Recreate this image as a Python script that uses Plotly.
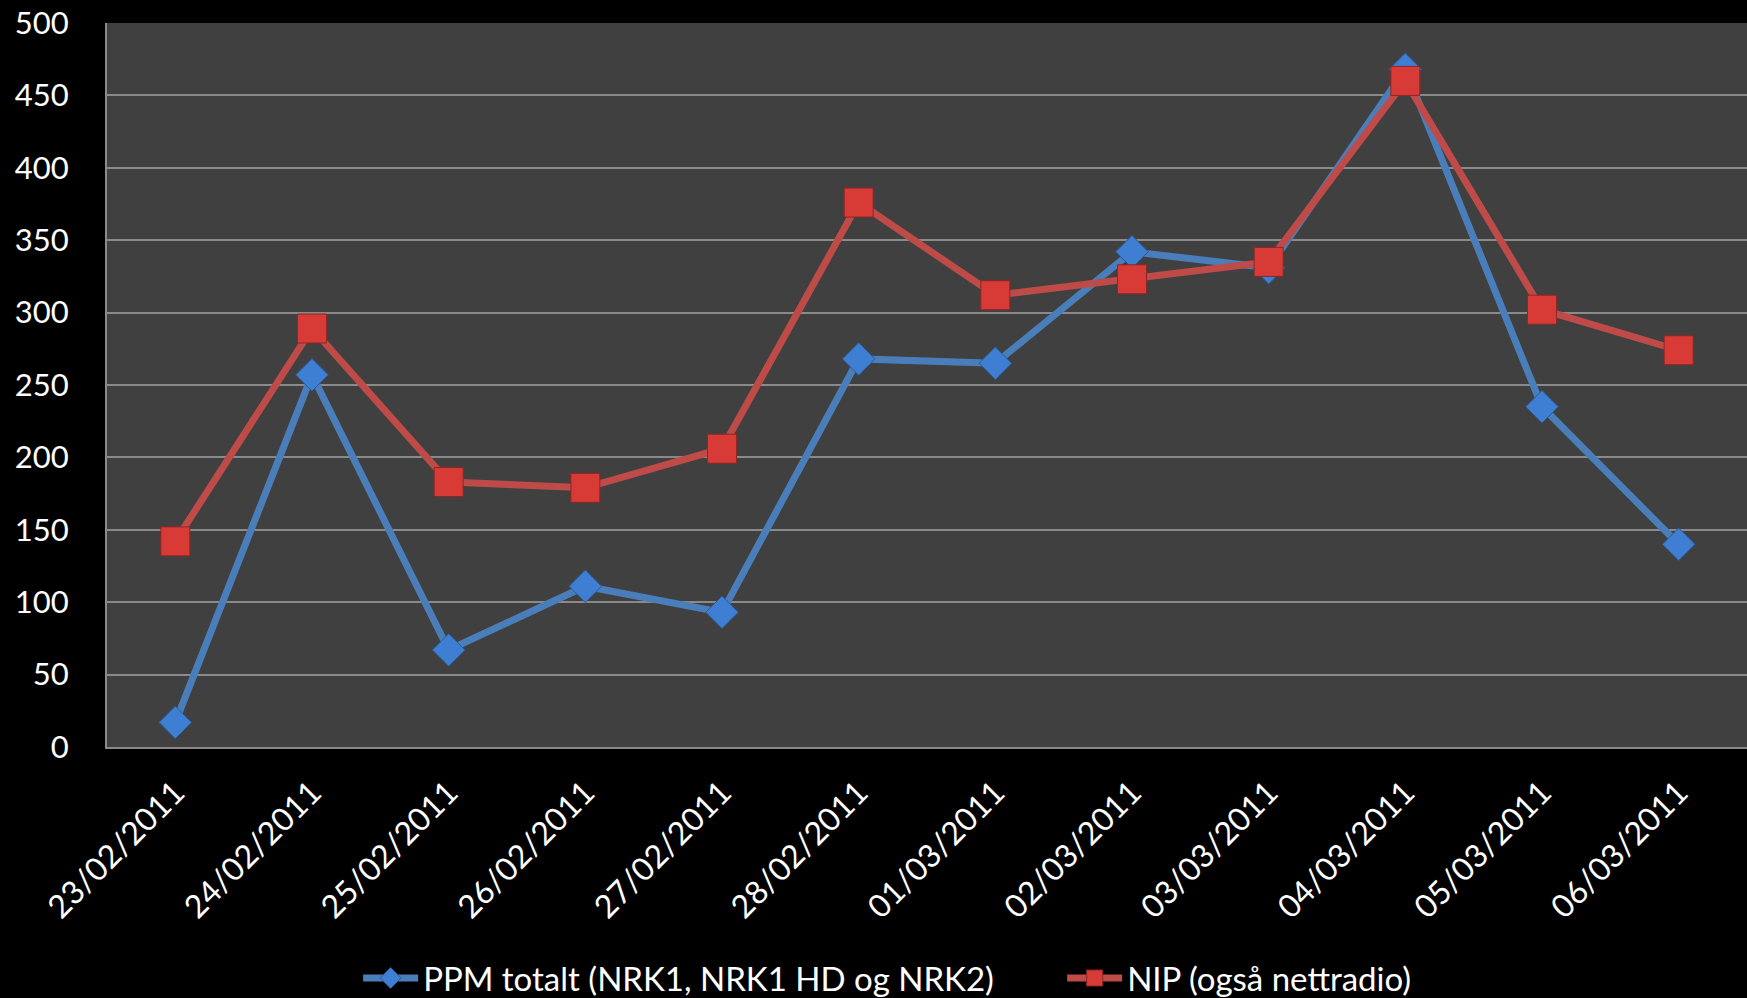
import plotly.graph_objects as go

# categories and series
dates = ["23/02/2011", "24/02/2011", "25/02/2011", "26/02/2011", "27/02/2011", "28/02/2011",
         "01/03/2011", "02/03/2011", "03/03/2011", "04/03/2011", "05/03/2011", "06/03/2011"]
ppm = [17, 257, 67, 111, 93, 268, 265, 342, 331, 468, 235, 140]
nip = [142, 289, 183, 179, 206, 376, 312, 323, 335, 460, 302, 274]
y_ticks = [0, 50, 100, 150, 200, 250, 300, 350, 400, 450, 500]

font_name = "Lato, Open Sans, sans-serif"

# blue series (drawn first so red sits on top)
trace1 = go.Scatter(x=dates, y=ppm,
                    mode='lines+markers',
                    name='PPM totalt (NRK1, NRK1 HD og NRK2)',
                    line=dict(color='#4a7ebb', width=7),
                    marker=dict(symbol='diamond', size=25, color='#3f7fd3',
                                line=dict(color='#2c5a94', width=1)))

# red series
trace2 = go.Scatter(x=dates, y=nip,
                    mode='lines+markers',
                    name='NIP (også nettradio)',
                    line=dict(color='#be4b48', width=7),
                    marker=dict(symbol='square', size=29, color='#d83a36',
                                line=dict(color='#8e2624', width=1)))

layout = go.Layout(
    width=1747,
    height=998,
    paper_bgcolor='black',
    plot_bgcolor='#404040',
    margin=dict(l=107, r=0, t=23, b=251),
    font=dict(family=font_name, color='white', size=31),
    xaxis=dict(type='category',
               range=[-0.5, 11.5],
               tickangle=-45,
               ticks='outside', ticklen=12, tickcolor='rgba(0,0,0,0)',
               showgrid=False,
               showline=True, linecolor='#8a8a8a', linewidth=2,
               tickfont=dict(size=32)),
    yaxis=dict(range=[0, 500],
               tickvals=y_ticks,
               ticks='outside', ticklen=30, tickcolor='rgba(0,0,0,0)',
               showgrid=True, gridcolor='#8a8a8a', gridwidth=2,
               zeroline=False,
               showline=True, linecolor='#8a8a8a', linewidth=2,
               tickfont=dict(size=31)),
    showlegend=True,
    legend=dict(orientation='h',
                xref='container', yref='container',
                x=0.205, y=0.02, xanchor='left', yanchor='middle',
                font=dict(size=33, color='white'),
                itemwidth=55,
                entrywidth=634, entrywidthmode='pixels',
                bgcolor='rgba(0,0,0,0)')
)

fig = go.Figure(data=[trace1, trace2], layout=layout)
fig.write_html("out.html",
               config={'displayModeBar': False},
               post_script="document.body.style.margin='0';document.body.style.overflow='hidden';")
